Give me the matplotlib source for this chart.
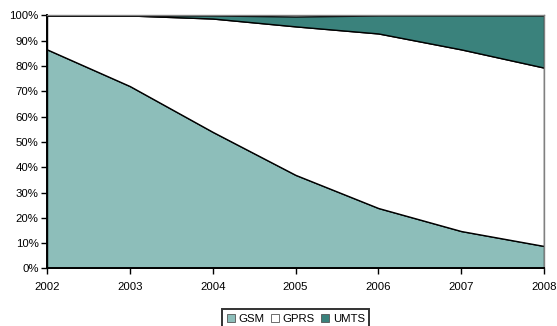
import matplotlib.pyplot as plt
from matplotlib.patches import Patch
from matplotlib.ticker import PercentFormatter

plt.rcParams['font.family'] = ['Liberation Sans', 'DejaVu Sans']

years = [2002, 2003, 2004, 2005, 2006, 2007, 2008]
gsm = [86.6, 72.1, 54.0, 37.0, 23.9, 14.8, 8.9]
gprs_top = [100.0, 100.0, 98.8, 95.7, 92.9, 86.6, 79.4]
umts_top = [100.0, 100.0, 100.0, 99.6, 100.0, 100.0, 100.0]

gprs = [t - g for t, g in zip(gprs_top, gsm)]
umts = [u - t for u, t in zip(umts_top, gprs_top)]

labels = ['GSM', 'GPRS', 'UMTS']
colors = ['#8DBEBA', '#FFFFFF', '#3A827C']

fig = plt.figure(figsize=(5.57, 3.26), dpi=100)
ax = fig.add_axes([0.0844, 0.1764, 0.8923, 0.7761])

ax.stackplot(years, gsm, gprs, umts, colors=colors,
             edgecolor='black', linewidth=1.0)

ax.set_xlim(2002, 2008)
ax.set_ylim(0, 100)
ax.set_xticks(years)
ax.set_yticks(range(0, 101, 10))
ax.yaxis.set_major_formatter(PercentFormatter(decimals=0))
ax.tick_params(direction='out', length=4, width=1, labelsize=8.2,
               colors='black')
ax.tick_params(axis='x', pad=6)
ax.tick_params(axis='y', pad=2)

for side in ('left', 'bottom'):
    ax.spines[side].set_linewidth(1.4)
    ax.spines[side].set_color('black')
for side in ('top', 'right'):
    ax.spines[side].set_linewidth(1)
    ax.spines[side].set_color('#808080')

handles = [Patch(facecolor=c, edgecolor='#555555', linewidth=0.6)
           for c in colors]
leg = fig.legend(handles, labels, loc='upper center',
                 bbox_to_anchor=(0.531, 0.052), ncol=3, fontsize=8.2,
                 frameon=True, fancybox=False, handlelength=0.7,
                 handleheight=0.7, handletextpad=0.3, columnspacing=0.6,
                 borderpad=0.4, borderaxespad=0)
leg.get_frame().set_edgecolor('black')
leg.get_frame().set_linewidth(1.4)

fig.savefig('out.png', dpi=100)
